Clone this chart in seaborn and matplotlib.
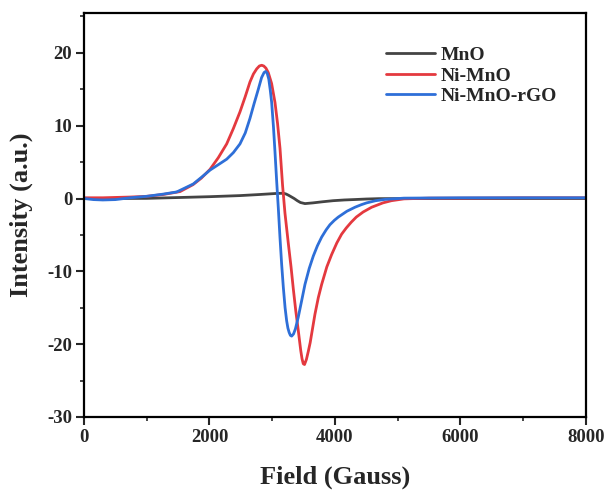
import numpy as np
import pandas as pd
import matplotlib
matplotlib.use("Agg")
import matplotlib.pyplot as plt
import seaborn as sns
from matplotlib.ticker import MultipleLocator

# ---- data ----
mno_field = [0, 500, 1000, 1530, 2000, 2486, 2800, 3076, 3177, 3220, 3260, 3300, 3350, 3400,
             3450, 3522, 3650, 3800, 3970, 4150, 4320, 4500, 4700, 5500, 6500, 8000]
mno_int = [0.0, 0.0, 0.02, 0.14, 0.25, 0.4, 0.55, 0.7, 0.72, 0.62, 0.45, 0.25, 0.0, -0.3,
           -0.55, -0.7, -0.6, -0.45, -0.3, -0.2, -0.14, -0.07, -0.02, 0.0, 0.0, 0.0]

ni_field = [0, 300, 733, 1000, 1260, 1530, 1737, 1870, 2008, 2140, 2274, 2380, 2486, 2570,
            2645, 2700, 2752, 2795, 2832, 2865, 2900, 2937, 2990, 3044, 3085, 3124, 3165,
            3203, 3257, 3300, 3336, 3375, 3415, 3455, 3475, 3495, 3515, 3545, 3575, 3605,
            3640, 3681, 3735, 3788, 3870, 3947, 4030, 4106, 4180, 4260, 4340, 4450, 4585,
            4765, 4900, 5100, 5500, 6000, 7000, 8000]
ni_int = [0.1, 0.1, 0.2, 0.3, 0.55, 0.95, 1.9, 2.8, 4.0, 5.6, 7.5, 9.6, 11.9, 14.0,
          16.0, 17.1, 17.8, 18.2, 18.3, 18.2, 17.9, 17.3, 15.8, 13.2, 10.3, 6.9, 1.8,
          -2.0, -6.2, -9.4, -12.4, -15.4, -18.1, -20.9, -22.0, -22.7, -22.8, -22.1, -21.0, -19.8,
          -18.0, -15.9, -13.6, -11.8, -9.4, -7.7, -6.1, -4.9, -4.05, -3.25, -2.55, -1.85, -1.2,
          -0.6, -0.3, -0.05, 0.05, 0.05, 0.1, 0.1]

rgo_field = [0, 150, 300, 500, 733, 1000, 1260, 1477, 1742, 1870, 2008, 2150, 2274, 2380,
             2486, 2570, 2645, 2710, 2778, 2830, 2870, 2895, 2920, 2945, 2970, 2991, 3020,
             3044, 3070, 3097, 3124, 3150, 3177, 3205, 3230, 3250, 3270, 3290, 3310, 3340,
             3370, 3415, 3470, 3522, 3590, 3655, 3720, 3788, 3860, 3920, 3990, 4053, 4190,
             4319, 4420, 4505, 4650, 4800, 5100, 6000, 7000, 8000]
rgo_int = [0.0, -0.15, -0.2, -0.15, 0.1, 0.3, 0.6, 0.9, 2.0, 2.9, 3.9, 4.7, 5.4, 6.3,
           7.5, 9.0, 11.0, 13.0, 15.0, 16.6, 17.3, 17.45, 17.2, 16.4, 14.8, 13.2, 9.8,
           6.4, 2.5, -1.3, -5.4, -9.0, -12.2, -15.0, -16.8, -17.8, -18.4, -18.8, -18.9, -18.6,
           -17.9, -16.3, -14.0, -11.8, -9.6, -7.9, -6.5, -5.3, -4.3, -3.6, -3.0, -2.55, -1.75,
           -1.2, -0.85, -0.6, -0.3, -0.12, 0.05, 0.1, 0.1, 0.1]

labels = ["MnO", "Ni-MnO", "Ni-MnO-rGO"]
colors = ["#444444", "#e4393f", "#2e6fd8"]

df = pd.concat([
    pd.DataFrame({"Field": mno_field, "Intensity": mno_int, "Sample": labels[0]}),
    pd.DataFrame({"Field": ni_field, "Intensity": ni_int, "Sample": labels[1]}),
    pd.DataFrame({"Field": rgo_field, "Intensity": rgo_int, "Sample": labels[2]}),
])

sns.set_style("ticks")
plt.rcParams["font.family"] = ["Liberation Serif", "DejaVu Serif"]
plt.rcParams["font.weight"] = "bold"
plt.rcParams["axes.unicode_minus"] = False

fig = plt.figure(figsize=(6.09, 4.94), dpi=100)
ax = fig.add_axes([0.138, 0.156, 0.824, 0.818])

sns.lineplot(data=df, x="Field", y="Intensity", hue="Sample", hue_order=labels,
             palette=colors, estimator=None, linewidth=2.0, ax=ax)

ax.set_xlim(0, 8000)
ax.set_ylim(-30, 25.5)
ax.xaxis.set_major_locator(MultipleLocator(2000))
ax.xaxis.set_minor_locator(MultipleLocator(1000))
ax.yaxis.set_major_locator(MultipleLocator(10))
ax.yaxis.set_minor_locator(MultipleLocator(5))
ax.tick_params(which="major", direction="out", length=5.5, width=1.5, labelsize=13.5, pad=3)
ax.tick_params(which="minor", direction="out", length=3, width=1.2)
for lab in ax.get_xticklabels() + ax.get_yticklabels():
    lab.set_fontweight("bold")
for s in ax.spines.values():
    s.set_linewidth(1.6)
    s.set_color("black")

ax.set_xlabel("Field (Gauss)", fontsize=19, fontweight="bold", labelpad=14)
ax.set_ylabel("Intensity (a.u.)", fontsize=19, fontweight="bold", labelpad=10)

leg = ax.legend(loc="upper right", bbox_to_anchor=(0.978, 0.96), frameon=False,
                prop={"family": "Liberation Serif", "weight": "bold", "size": 14},
                handlelength=2.5, handletextpad=0.3, labelspacing=0.15)
for h in leg.get_lines():
    h.set_linewidth(2.0)

fig.savefig("out.png", dpi=100)
